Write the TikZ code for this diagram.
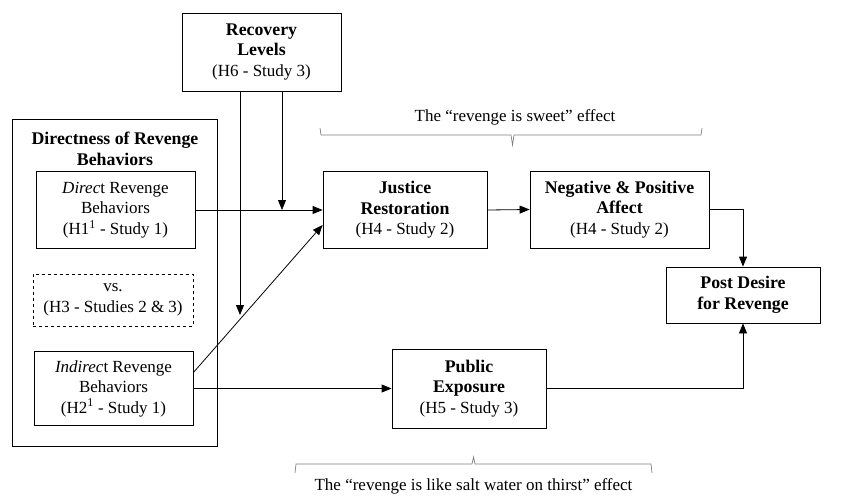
\documentclass[tikz,border=0pt]{standalone}
\usepackage{fontspec}
\setmainfont{Liberation Serif}
\usetikzlibrary{arrows.meta}
\newcommand{\bfx}[1]{{\fontsize{17.8}{20.5}\selectfont\bfseries #1}}
\begin{document}
\begin{tikzpicture}[x=1pt,y=-1pt,
  box/.style={draw, line width=0.8pt, inner sep=0pt, align=center, font=\fontsize{17}{20.5}\selectfont},
  txt/.style={inner sep=0pt, align=center, font=\fontsize{17}{20.5}\selectfont},
  arr/.style={line width=0.8pt, -{Triangle[length=10pt,width=8pt]}},
  brc/.style={draw=gray, line width=0.7pt}]
\useasboundingbox (0,0) rectangle (845,503);
\node[box, minimum width=159pt, minimum height=78pt] (recovery) at (261.5,52) {\bfx{Recovery}\\\bfx{Levels}\\(H6 - Study 3)};
\node[box, minimum width=205pt, minimum height=327pt] (outer) at (115,282.5) {};
\node[txt] (title) at (115,149) {\bfx{Directness of Revenge}\\\bfx{Behaviors}};
\node[box, minimum width=159pt, minimum height=77pt] (direct) at (115.5,210) {\textit{Direc}t Revenge\\Behaviors\\(H1\textsuperscript{1} - Study 1)};
\node[box, dashed, minimum width=160pt, minimum height=52pt] (vs) at (113,300) {vs.\\(H3 - Studies 2 \& 3)};
\node[box, minimum width=159pt, minimum height=74pt] (indirect) at (113.5,388.5) {\textit{Indirec}t Revenge\\Behaviors\\(H2\textsuperscript{1} - Study 1)};
\node[box, minimum width=164pt, minimum height=77pt] (justice) at (405,210) {\bfx{Justice}\\\bfx{Restoration}\\(H4 - Study 2)};
\node[box, minimum width=179pt, minimum height=77pt] (negative) at (619.5,209.5) {\bfx{Negative \& Positive}\\\bfx{Affect}\\(H4 - Study 2)};
\node[box, minimum width=154pt, minimum height=56pt] (post) at (743,295) {\bfx{Post Desire}\\\bfx{for Revenge}};
\node[box, minimum width=154pt, minimum height=79pt] (public) at (469,388.5) {\bfx{Public}\\\bfx{Exposure}\\(H5 - Study 3)};
\coordinate (m1) at (282,210);
\coordinate (m2) at (240,315);
\draw[arr] (direct.east) -- (justice.west);
\draw[arr] (recovery.south -| m1) -- (m1);
\draw[arr] (recovery.south -| m2) -- (m2);
\draw[arr] ([yshift=16pt]indirect.east) -- ([yshift=-15pt]justice.west);
\draw[arr] (indirect.east) -- (indirect.east -| public.west);
\draw[arr] (justice.east) -- (negative.west);
\draw[arr] (negative.east) -| (post.north);
\draw[arr] (public.east) -| (post.south);
\draw[brc] (320,128) -- (321,135) -- (511,135) -- (512.5,145) -- (514,135) -- (701,135) -- (702,128);
\node[txt] (sweet) at (515,117) {The “revenge is sweet” effect};
\draw[brc] (295,473) -- (296,464) -- (472,464) -- (473.5,457) -- (475,464) -- (651,464) -- (652,473);
\node[txt] (salt) at (473.5,486) {The “revenge is like salt water on thirst” effect};
\end{tikzpicture}
\end{document}
